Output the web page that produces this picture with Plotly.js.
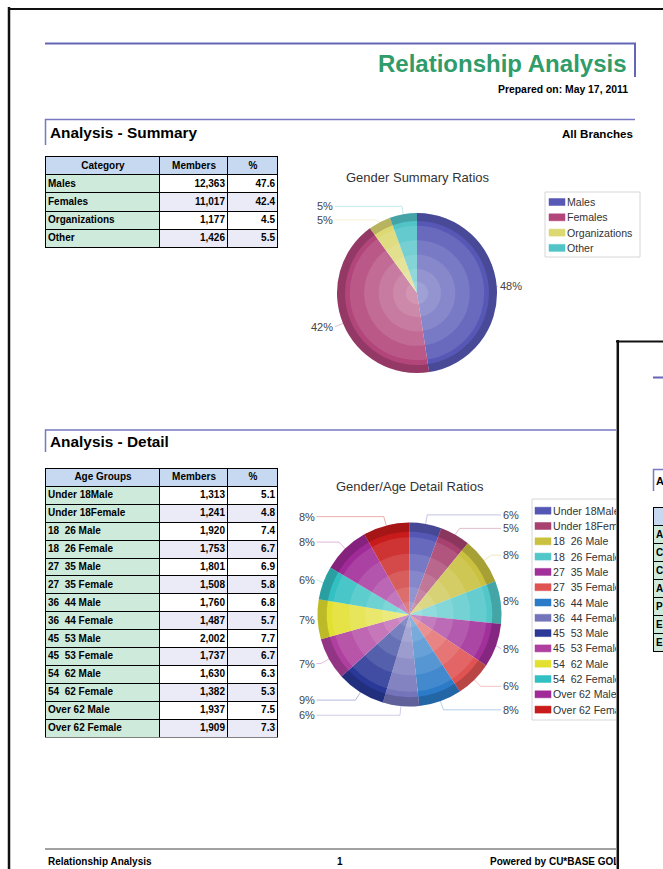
<!DOCTYPE html>
<html><head><meta charset="utf-8">
<script src="https://cdn.plot.ly/plotly-3.0.1.min.js"></script>
<style>
html,body{margin:0;padding:0;background:#fff;}
#wrap{position:relative;width:663px;height:869px;overflow:hidden;background:#fff;}
#page1{position:absolute;left:0;top:0;width:663px;height:869px;}
#p2clip{position:absolute;left:616px;top:340px;width:47px;height:529px;overflow:hidden;background:#fff;}
#page2{width:220px;height:529px;}
</style></head><body>
<div id="wrap"><div id="page1"></div><div id="p2clip"><div id="page2"></div></div></div>
<script>
// ---------------- DATA ----------------
const summaryHeader = ['Category', 'Members', '%'];
const summaryCategories = ['Males', 'Females', 'Organizations', 'Other'];
const summaryMembers = [12363, 11017, 1177, 1426];
const summaryPercent = [47.6, 42.4, 4.5, 5.5];

const detailHeader = ['Age Groups', 'Members', '%'];
const detailGroups = ['Under 18Male', 'Under 18Female', '18\u00a0\u00a026 Male', '18\u00a0\u00a026 Female',
  '27\u00a0\u00a035 Male', '27\u00a0\u00a035 Female', '36\u00a0\u00a044 Male', '36\u00a0\u00a044 Female',
  '45\u00a0\u00a053 Male', '45\u00a0\u00a053 Female', '54\u00a0\u00a062 Male', '54\u00a0\u00a062 Female',
  'Over 62 Male', 'Over 62 Female'];
const detailMembers = [1313, 1241, 1920, 1753, 1801, 1508, 1760, 1487, 2002, 1737, 1630, 1382, 1937, 1909];
const detailPercent = [5.1, 4.8, 7.4, 6.7, 6.9, 5.8, 6.8, 5.7, 7.7, 6.7, 6.3, 5.3, 7.5, 7.3];

const page2RowInitials = ['A', 'C', 'C', 'A', 'P', 'E', 'E'];

// ---------------- STYLES ----------------
const summaryColors = ['#5758b6', '#b2457a', '#dcd872', '#52c4c8'];
const detailColors = ['#5557b5', '#a8416f', '#c9c13f', '#52c7c9', '#a1309a', '#e05353', '#2b7bc8',
  '#7474bb', '#2a3898', '#b0409f', '#e2e030', '#33c0c2', '#a02a98', '#c91b1b'];
const FONT = 'Liberation Sans, Arial, sans-serif';
const HDR = '#c6d9f0', GREEN = '#cdeadb', WHITE = '#ffffff', LAV = '#ebebf7';
const PURPLE = '#6565b5', PURPLE2 = '#7777c2';

const W = 663, H = 869;
const px = x => x / W, py = y => 1 - y / H;
const shapes = [], annotations = [], traces = [];
const layout = {
  width: W, height: H, margin: {l: 0, r: 0, t: 0, b: 0, pad: 0},
  paper_bgcolor: '#ffffff', plot_bgcolor: '#000000', showlegend: false,
  shapes, annotations
};

function line(x0, y0, x1, y1, color, width, P, Q) {
  P = P || px; Q = Q || py;
  shapes.push({type: 'line', xref: 'paper', yref: 'paper', x0: P(x0), y0: Q(y0), x1: P(x1), y1: Q(y1),
    line: {color: color, width: width}});
}
function txt(t, x, y, o) {
  o = o || {};
  const P = o.P || px, Q = o.Q || py, arr = o.arr || annotations;
  arr.push({text: o.bold ? '<b>' + t + '</b>' : t, xref: 'paper', yref: 'paper', x: P(x), y: Q(y),
    showarrow: false, xanchor: o.xa || 'left', yanchor: 'middle', borderpad: 0, borderwidth: 0,
    font: {family: FONT, size: o.size || 10, color: o.color || '#000'}});
}

// ---------------- PAGE FRAME ----------------
line(9, 7, 9, 869, '#111', 2.5);
line(8, 9, 663, 9, '#111', 2);
line(45, 43.5, 636, 43.5, PURPLE, 2);
line(635, 43, 635, 77, PURPLE, 2);
txt('Relationship Analysis', 627, 64, {xa: 'right', size: 24, bold: true, color: '#2f9c69'});
txt('Prepared on: May 17, 2011', 628, 89, {xa: 'right', size: 10.4, bold: true});

line(45, 119.5, 635, 119.5, PURPLE2, 1.5);
line(45.5, 119, 45.5, 145, PURPLE2, 1.5);
txt('Analysis - Summary', 50, 132, {size: 15.4, bold: true});
txt('All Branches', 633, 133.5, {xa: 'right', size: 11.6, bold: true});

line(45, 430, 635, 430, PURPLE2, 1.5);
line(45.5, 429.5, 45.5, 452, PURPLE2, 1.5);
txt('Analysis - Detail', 50, 441.5, {size: 15.4, bold: true});

line(45, 849, 635, 849, '#444', 1);
txt('Relationship Analysis', 48, 861, {size: 10, bold: true});
txt('1', 340, 861, {xa: 'center', size: 10, bold: true});
txt('Powered by CU*BASE GOLD', 490, 861, {size: 10, bold: true});

// ---------------- TABLES (heatmap cells + text on hidden axes) ----------------
const cscale = [[0, HDR], [0.25, HDR], [0.25, GREEN], [0.5, GREEN], [0.5, WHITE], [0.75, WHITE], [0.75, LAV], [1, LAV]];
function table(lay, trs, id, L, T, colW, rowH, header, cols, P, Q) {
  const n = cols[0].length;
  const xe = [0]; colW.forEach(w => xe.push(xe[xe.length - 1] + w));
  const total = xe[xe.length - 1];
  const ye = []; for (let i = 0; i <= n + 1; i++) ye.push(i);
  const z = [colW.map(() => 0)];
  for (let r = 0; r < n; r++) z.push(colW.map((_, c) => c === 0 ? 1 : (r % 2 ? 3 : 2)));
  const xa = 'x' + (id === 1 ? '' : id), ya = 'y' + (id === 1 ? '' : id);
  trs.push({type: 'heatmap', x: xe, y: ye, z: z, xaxis: xa, yaxis: ya, xgap: 1, ygap: 1,
    colorscale: cscale, zmin: 0, zmax: 3, showscale: false, hoverinfo: 'skip'});
  const tf = {family: FONT, size: 10, color: '#000', weight: 'bold'};
  if (header) {
    trs.push({type: 'scatter', mode: 'text', xaxis: xa, yaxis: ya, cliponaxis: false, hoverinfo: 'skip',
      x: header.map((_, i) => (xe[i] + xe[i + 1]) / 2), y: header.map(() => 0.5), text: header,
      textposition: 'middle center', textfont: tf});
  }
  cols.forEach((col, c) => {
    const left = c === 0;
    trs.push({type: 'scatter', mode: 'text', xaxis: xa, yaxis: ya, cliponaxis: false, hoverinfo: 'skip',
      x: col.map(() => left ? xe[c] + 2 : xe[c + 1] - 3), y: col.map((_, r) => r + 1.5), text: col,
      textposition: left ? 'middle right' : 'middle left', textfont: tf});
  });
  const k = id === 1 ? '' : id;
  lay['xaxis' + k] = {domain: [P(L - 1), P(L + total)], range: [-1, total], visible: false, fixedrange: true};
  lay['yaxis' + k] = {domain: [Q(T + (n + 1) * rowH), Q(T - 1)], range: [n + 1, -1 / rowH], visible: false, fixedrange: true};
}
const fmtN = v => v.toLocaleString('en-US');
const fmtP = v => v.toFixed(1);
table(layout, traces, 1, 46, 157, [114, 68, 50], 18.2, summaryHeader,
  [summaryCategories, summaryMembers.map(fmtN), summaryPercent.map(fmtP)], px, py);
table(layout, traces, 2, 46, 469, [114, 68, 50], 17.9, detailHeader,
  [detailGroups, detailMembers.map(fmtN), detailPercent.map(fmtP)], px, py);

// ---------------- PIES ----------------
function largestRemainder(values) {
  const tot = values.reduce((a, b) => a + b, 0);
  const raw = values.map(v => v / tot * 100);
  const fl = raw.map(Math.floor);
  let rest = 100 - fl.reduce((a, b) => a + b, 0);
  const order = raw.map((v, i) => [v - fl[i], i]).sort((a, b) => b[0] - a[0]);
  for (let j = 0; j < rest; j++) fl[order[j][1]] += 1;
  return fl;
}
function hexA(hex, a) {
  const n = parseInt(hex.slice(1), 16);
  return 'rgba(' + (n >> 16) + ',' + ((n >> 8) & 255) + ',' + (n & 255) + ',' + a + ')';
}
function pie(title, labels, values, colors, cx, cy, r, o) {
  const dom = f => ({x: [px(cx - r * f), px(cx + r * f)], y: [py(cy + r * f), py(cy - r * f)]});
  const base = {type: 'pie', labels: labels, values: values, sort: false, direction: 'clockwise', rotation: 0,
    textinfo: 'none', hoverinfo: 'skip', showlegend: false};
  traces.push(Object.assign({}, base, {domain: dom(1), marker: {colors: colors, line: {width: 0}}}));
  [0.84, 0.66, 0.48, 0.3, 0.14].forEach(f => traces.push(Object.assign({}, base, {domain: dom(f),
    marker: {colors: values.map(() => 'rgba(255,255,255,0.11)'), line: {width: 0}}})));
  traces.push(Object.assign({}, base, {domain: dom(1), hole: 0.9,
    marker: {colors: values.map(() => 'rgba(0,0,0,0.17)'), line: {width: 0}}}));
  txt(title, cx + o.titleDx, o.titleY, {xa: 'center', size: 13, color: '#333'});

  // labels + leader lines
  const pct = largestRemainder(values);
  const tot = values.reduce((a, b) => a + b, 0);
  let cum = 0;
  const items = values.map((v, i) => {
    const mid = (cum + v / 2) / tot * 2 * Math.PI; cum += v;
    const s = Math.sin(mid), c = Math.cos(mid);
    return {i: i, right: s >= 0, ex: cx + r * s, ey: cy - r * c, bx: cx + 1.1 * r * s, ly: cy - 1.1 * r * c};
  });
  [true, false].forEach(side => {
    const g = items.filter(d => d.right === side).sort((a, b) => a.ly - b.ly);
    for (let j = 1; j < g.length; j++) if (g[j].ly - g[j - 1].ly < 13.5) g[j].ly = g[j - 1].ly + 13.5;
  });
  items.forEach(d => {
    const tx = d.right ? cx + o.rightX : cx - o.leftX;
    const lx = d.right ? tx - 2 : tx + 2;
    const bx = d.right ? Math.min(d.bx, lx) : Math.max(d.bx, lx);
    const lc = hexA(colors[d.i], 0.35);
    line(d.ex, d.ey, bx, d.ly, lc, 1);
    line(bx, d.ly, lx, d.ly, lc, 1);
    txt(pct[d.i] + '%', tx, d.ly, {xa: d.right ? 'left' : 'right', size: 11, color: '#444'});
  });

  // legend
  const L = o.legend;
  shapes.push({type: 'rect', xref: 'paper', yref: 'paper', x0: px(L.x0), x1: px(L.x1), y0: py(L.y1), y1: py(L.y0),
    line: {color: '#d6d6d6', width: 1}, fillcolor: '#ffffff', layer: 'below'});
  labels.forEach((lab, i) => {
    const y = L.first + i * 15.3;
    shapes.push({type: 'rect', xref: 'paper', yref: 'paper', x0: px(L.sx), x1: px(L.sx + 16), y0: py(y + 3.5), y1: py(y - 3.5),
      line: {color: colors[i], width: 0.5}, fillcolor: colors[i]});
    txt(lab, L.sx + 18, y, {size: 10.6, color: '#333'});
  });
}
pie('Gender Summary Ratios', summaryCategories, summaryMembers, summaryColors, 417, 293, 80,
  {titleDx: 1, titleY: 177, leftX: 84, rightX: 83,
   legend: {x0: 545, x1: 640, y0: 192, y1: 257, first: 202, sx: 549}});
pie('Gender/Age Detail Ratios', detailGroups, detailMembers, detailColors, 409.5, 614.5, 92,
  {titleDx: 0.5, titleY: 486, leftX: 95, rightX: 93.5,
   legend: {x0: 532, x1: 650, y0: 499, y1: 720, first: 510.7, sx: 535}});

Plotly.newPlot('page1', traces, layout, {displayModeBar: false, staticPlot: true});

// ---------------- PAGE 2 (overlapping next page) ----------------
const W2 = 220, H2 = 529, OX = 616, OY = 340;
const px2 = x => (x - OX) / W2, py2 = y => 1 - (y - OY) / H2;
const shapes2 = [], ann2 = [], traces2 = [];
const layout2 = {width: W2, height: H2, margin: {l: 0, r: 0, t: 0, b: 0, pad: 0},
  paper_bgcolor: '#ffffff', plot_bgcolor: '#000000', showlegend: false, shapes: shapes2, annotations: ann2};
const l2 = (a, b, c, d, col, w) => shapes2.push({type: 'line', xref: 'paper', yref: 'paper',
  x0: px2(a), y0: py2(b), x1: px2(c), y1: py2(d), line: {color: col, width: w}});
l2(617.8, 340, 617.8, 869, '#111', 2.5);
l2(616, 341.5, 836, 341.5, '#111', 2);
l2(653, 377.5, 836, 377.5, PURPLE, 2);
l2(653, 469.5, 836, 469.5, PURPLE2, 1.5);
l2(653.5, 469, 653.5, 491, PURPLE2, 1.5);
txt('A', 655.5, 480.5, {size: 11, bold: true, P: px2, Q: py2, arr: ann2});
table(layout2, traces2, 1, 654, 508, [150], 18, null, [page2RowInitials], px2, py2);
Plotly.newPlot('page2', traces2, layout2, {displayModeBar: false, staticPlot: true});
</script>
</body></html>
